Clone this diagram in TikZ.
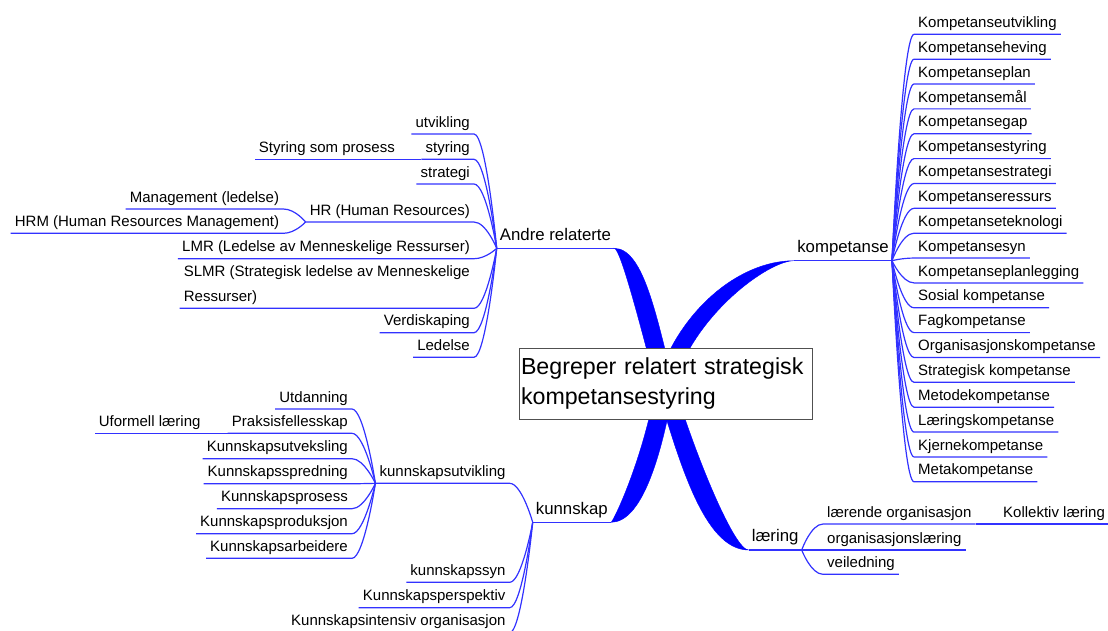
\documentclass[tikz,border=0pt]{standalone}
\usepackage{fontspec}
\setmainfont{Liberation Sans}
\definecolor{thinblue}{RGB}{50,50,255}
\definecolor{thickblue}{RGB}{0,0,255}
\definecolor{boxgray}{RGB}{80,80,80}
\newcommand\fsub{\fontsize{15}{25}\selectfont}
\newcommand\fmain{\fontsize{16.8}{20}\selectfont}
\newcommand\froot{\fontsize{23.2}{30}\selectfont}
\begin{document}
\begin{tikzpicture}[x=1pt,y=-1pt,
  subbase/.style={font=\fsub, inner xsep=4pt, inner ysep=3pt, text depth=3.6pt},
  sub/.style={subbase, text height=11pt},
  mainlbl/.style={font=\fmain, inner xsep=3pt, inner ysep=4pt, text height=12.5pt, text depth=4pt},
  rootbox/.style={draw=boxgray, fill=white, line width=0.9pt, font=\froot, align=left, text width=289pt, inner xsep=2pt, inner ysep=0pt, minimum height=71pt},
  conn/.style={draw=thinblue, line width=1.2pt},
  limb/.style={fill=thickblue, draw=thickblue, line width=0.4pt},
]
\useasboundingbox (0,0) rectangle (1108,630);

% main labels
\node[mainlbl, anchor=south west] (andre) at (496.7,248.3) {Andre relaterte};
\node[mainlbl, anchor=south east] (komp) at (892,260.7) {kompetanse};
\node[mainlbl, anchor=south west] (kunn) at (532.7,522.3) {kunnskap};
\node[mainlbl, anchor=south east] (laer) at (801.7,550) {læring};
\coordinate (cL) at (656,385);
\coordinate (cR) at (674,385);

\draw[conn] (andre.south west) -- (andre.south east);
\draw[conn] (komp.south west) -- (komp.south east);
\draw[conn] (kunn.south west) -- (kunn.south east);
\draw[conn] (laer.south west) -- (laer.south east);

% kompetanse children
\foreach \t [count=\i from 0] in {Kompetanseutvikling, Kompetanseheving, Kompetanseplan, Kompetansemål, Kompetansegap, Kompetansestyring, Kompetansestrategi, Kompetanseressurs, Kompetanseteknologi, Kompetansesyn, Kompetanseplanlegging, Sosial kompetanse, Fagkompetanse, Organisasjonskompetanse, Strategisk kompetanse, Metodekompetanse, Læringskompetanse, Kjernekompetanse, Metakompetanse} {
  \node[sub, anchor=south west] (k\i) at (914,{34.3+24.86*\i}) {\t};
  \draw[conn] (komp.south east) .. controls +(0,0) and +(-12,0) .. (k\i.south west) -- (k\i.south east);
}

% Andre relaterte children
\node[sub, anchor=south east] (a1) at (474,134) {utvikling};
\node[sub, anchor=south east] (a2) at (474,159.3) {styring};
\node[sub, anchor=south east] (a3) at (474,184) {strategi};
\node[sub, anchor=south east] (a4) at (474,222) {HR (Human Resources)};
\node[sub, anchor=south east] (a5) at (474,258.7) {LMR (Ledelse av Menneskelige Ressurser)};
\node[subbase, align=left, anchor=south east] (a6) at (474,308.3) {SLMR (Strategisk ledelse av Menneskelige\\Ressurser)};
\node[sub, anchor=south east] (a7) at (474,332.7) {Verdiskaping};
\node[sub, anchor=south east] (a8) at (474,357.3) {Ledelse};
\foreach \n in {a1,a2,a3,a4,a5,a6,a7,a8} {
  \draw[conn] (andre.south west) .. controls +(0,0) and +(12,0) .. (\n.south east) -- (\n.south west);
}
\node[sub, anchor=south east] (s1) at (399,159.3) {Styring som prosess};
\draw[conn] (a2.south west) -- (s1.south east) -- (s1.south west);
\node[sub, anchor=south east] (m1) at (283.3,209) {Management (ledelse)};
\node[sub, anchor=south east] (m2) at (283.3,233.3) {HRM (Human Resources Management)};
\foreach \n in {m1,m2} {
  \draw[conn] (a4.south west) .. controls +(0,0) and +(12,0) .. (\n.south east) -- (\n.south west);
}

% kunnskap children
\node[sub, anchor=south east] (n1) at (509.7,483.3) {kunnskapsutvikling};
\node[sub, anchor=south east] (n2) at (509.7,582.3) {kunnskapssyn};
\node[sub, anchor=south east] (n3) at (509.7,607.7) {Kunnskapsperspektiv};
\node[sub, anchor=south east] (n4) at (509.7,632.6) {Kunnskapsintensiv organisasjon};
\foreach \n in {n1,n2,n3,n4} {
  \draw[conn] (kunn.south west) .. controls +(0,0) and +(12,0) .. (\n.south east) -- (\n.south west);
}
\node[sub, anchor=south east] (u1) at (352,409) {Utdanning};
\node[sub, anchor=south east] (u2) at (352,433.3) {Praksisfellesskap};
\node[sub, anchor=south east] (u3) at (352,458.7) {Kunnskapsutveksling};
\node[sub, anchor=south east] (u4) at (352,483.7) {Kunnskapsspredning};
\node[sub, anchor=south east] (u5) at (352,508.7) {Kunnskapsprosess};
\node[sub, anchor=south east] (u6) at (352,533.7) {Kunnskapsproduksjon};
\node[sub, anchor=south east] (u7) at (352,558.3) {Kunnskapsarbeidere};
\foreach \n in {u1,u2,u3,u4,u5,u6,u7} {
  \draw[conn] (n1.south west) .. controls +(0,0) and +(12,0) .. (\n.south east) -- (\n.south west);
}
\node[sub, anchor=south east] (uf) at (204.7,433.3) {Uformell læring};
\draw[conn] (u2.south west) -- (uf.south east) -- (uf.south west);

% læring children
\node[sub, anchor=south west] (l1) at (823,524) {lærende organisasjon};
\node[sub, anchor=south west] (l2) at (823,550) {organisasjonslæring};
\node[sub, anchor=south west] (l3) at (823,574.3) {veiledning};
\foreach \n in {l1,l2,l3} {
  \draw[conn] (laer.south east) .. controls +(0,0) and +(-12,0) .. (\n.south west) -- (\n.south east);
}
\node[sub, anchor=south west] (kl) at (999,524) {Kollektiv læring};
\draw[conn] (l1.south east) -- (kl.south west) -- (kl.south east);

% thick limbs
\filldraw[limb] (andre.south east) .. controls +(30,0) and +(-17,-65) .. (cR) -- (cL) .. controls +(-17,-65) and +(6,0) .. (andre.south east) -- cycle;
\filldraw[limb] (komp.south west) .. controls +(-58,0) and +(20,-70) .. (cL) -- (cR) .. controls +(20,-70) and +(-26,0) .. (komp.south west) -- cycle;
\filldraw[limb] (kunn.south east) .. controls +(30,0) and +(-13,75) .. (cR) -- (cL) .. controls +(-13,75) and +(2,0) .. (kunn.south east) -- cycle;
\filldraw[limb] (laer.south west) .. controls +(-45,0) and +(23,75) .. (cL) -- (cR) .. controls +(23,75) and +(-14,0) .. (laer.south west) -- cycle;

% root
\node[rootbox] (root) at (665.5,383.5) {Begreper relatert strategisk\\kompetansestyring};
\end{tikzpicture}
\end{document}
